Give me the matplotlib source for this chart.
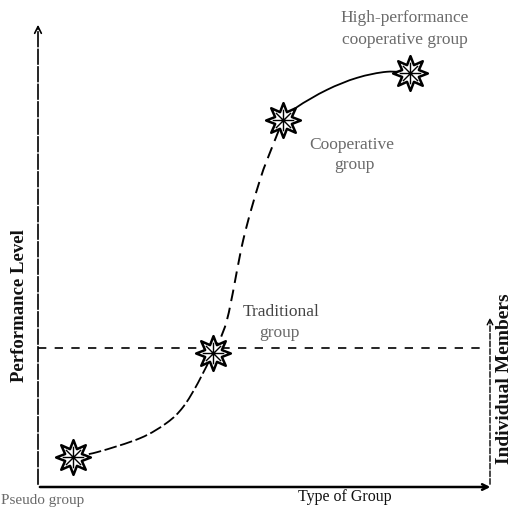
import numpy as np
import matplotlib
matplotlib.use("Agg")
import matplotlib.pyplot as plt
from matplotlib.path import Path
from matplotlib.patches import PathPatch

# ---- data ----
groups = ["Pseudo group", "Traditional\ngroup", "Cooperative\ngroup", "High-performance\ncooperative group"]
group_x = [0.77, 3.87, 5.42, 8.23]
performance = [0.65, 2.88, 7.89, 8.90]
individual_level = 2.99

# points along the hand-drawn curve, per segment
seg_a_x = [0.77, 1.31, 2.26, 2.85, 3.21, 3.54, 3.87]
seg_a_y = [0.65, 0.75, 1.05, 1.38, 1.72, 2.24, 2.88]
seg_b_x = [3.87, 4.18, 4.54, 4.91, 5.18, 5.42]
seg_b_y = [2.88, 3.59, 5.31, 6.60, 7.31, 7.89]
seg_c_x = [5.42, 5.73, 6.39, 7.06, 7.72, 8.23]
seg_c_y = [7.89, 8.17, 8.54, 8.80, 8.93, 8.90]

plt.rcParams['font.family'] = ['Liberation Serif', 'DejaVu Serif']

fig = plt.figure(figsize=(5.29, 5.12), dpi=100)
ax = fig.add_axes([38/529, 25/512, 452/529, 465/512])
ax.set_xlim(0, 10)
ax.set_ylim(0, 10)
ax.axis('off')


def smooth_path(xs, ys):
    pts = np.column_stack([xs, ys])
    verts = [pts[0]]
    codes = [Path.MOVETO]
    n = len(pts)
    for i in range(n - 1):
        p0 = pts[i - 1] if i > 0 else pts[i]
        p1 = pts[i]
        p2 = pts[i + 1]
        p3 = pts[i + 2] if i + 2 < n else pts[i + 1]
        c1 = p1 + (p2 - p0) / 6.0
        c2 = p2 - (p3 - p1) / 6.0
        verts += [c1, c2, p2]
        codes += [Path.CURVE4] * 3
    return Path(verts, codes)


ax.add_patch(PathPatch(smooth_path(seg_a_x, seg_a_y), fill=False, lw=1.3,
                       ec='black', linestyle=(0, (7, 2)), clip_on=False))
ax.add_patch(PathPatch(smooth_path(seg_b_x, seg_b_y), fill=False, lw=1.4,
                       ec='black', linestyle=(0, (6, 3.5)), clip_on=False))
ax.add_patch(PathPatch(smooth_path(seg_c_x, seg_c_y), fill=False, lw=1.3,
                       ec='black', clip_on=False))

# axes with arrows
ax.annotate('', xy=(0, 10.0), xytext=(0, 0),
            arrowprops=dict(arrowstyle='->', lw=1.2, color='black',
                            linestyle=(0, (9, 1.5)), mutation_scale=12),
            annotation_clip=False)
ax.annotate('', xy=(10.07, 0), xytext=(-0.02, 0),
            arrowprops=dict(arrowstyle='->', lw=1.8, color='black',
                            mutation_scale=10),
            annotation_clip=False)
# individual members level
ax.plot([0, 9.85], [individual_level, individual_level], color='black', lw=1.2,
        linestyle=(0, (5, 5)), clip_on=False)
ax.annotate('', xy=(10.0, 3.70), xytext=(10.0, 0),
            arrowprops=dict(arrowstyle='->', lw=1.0, color='black',
                            linestyle=(0, (4, 1.5)), mutation_scale=10),
            annotation_clip=False)

# star marker: 8 points with moderate inner radius
ang = np.linspace(0, 2 * np.pi, 17)[:-1] + np.pi / 2
rad = np.where(np.arange(16) % 2 == 0, 1.0, 0.52)
star_verts = np.column_stack([rad * np.cos(ang), rad * np.sin(ang)])
star_verts = np.vstack([star_verts, star_verts[:1]])
star_marker = Path(star_verts, [Path.MOVETO] + [Path.LINETO] * 15 + [Path.CLOSEPOLY])

inner = []
inner_codes = []
for k in range(8):
    a = np.pi / 2 + k * np.pi / 4
    inner += [(0, 0), (0.62 * np.cos(a), 0.62 * np.sin(a))]
    inner_codes += [Path.MOVETO, Path.LINETO]
inner += [(1.0, 1.0), (-1.0, -1.0)]
inner_codes += [Path.MOVETO, Path.MOVETO]
inner_marker = Path(inner, inner_codes)

ax.plot(group_x, performance, linestyle='none', marker=star_marker, markersize=25,
        markerfacecolor='white', markeredgecolor='black', markeredgewidth=1.8,
        clip_on=False, zorder=5)
ax.plot(group_x, performance, linestyle='none', marker=inner_marker, markersize=25,
        markerfacecolor='none', markeredgecolor='black', markeredgewidth=1.0,
        clip_on=False, zorder=6)

# labels
faint = '#6a6a6a'
fs = 12.5
ax.text(8.12, 10.09, "High-performance", ha='center', va='center', fontsize=fs, color=faint)
ax.text(8.12, 9.61, "cooperative group", ha='center', va='center', fontsize=fs, color=faint)
ax.text(6.95, 7.35, "Cooperative", ha='center', va='center', fontsize=fs, color=faint)
ax.text(7.01, 6.92, "group", ha='center', va='center', fontsize=fs, color=faint)
ax.text(5.38, 3.76, "Traditional", ha='center', va='center', fontsize=fs, color='#444444')
ax.text(5.35, 3.31, "group", ha='center', va='center', fontsize=fs, color=faint)
ax.text(-0.82, -0.28, "Pseudo group", ha='left', va='center', fontsize=11, color=faint)

ax.text(6.79, -0.215, "Type of Group", ha='center', va='center', fontsize=11.5, color='#111111')
ax.text(-0.42, 3.91, "Performance Level", ha='center', va='center', rotation=90,
        fontsize=13.5, fontweight='bold', color='#111111')
ax.text(10.33, 2.34, "Individual Members", ha='center', va='center', rotation=90,
        fontsize=14, fontweight='bold', color='#111111')

fig.savefig('out.png', dpi=100)
